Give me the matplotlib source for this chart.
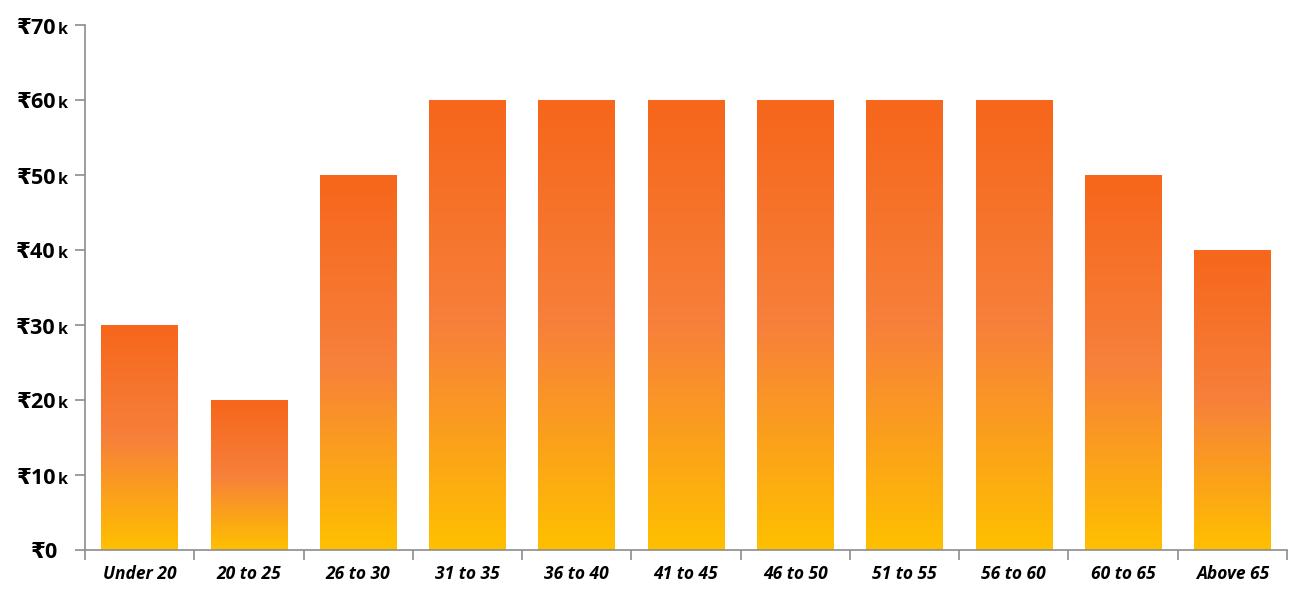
import matplotlib
matplotlib.use("Agg")
import matplotlib.pyplot as plt
import matplotlib.transforms as mtrans
import numpy as np
from matplotlib.colors import LinearSegmentedColormap

categories = ["Under 20", "20 to 25", "26 to 30", "31 to 35", "36 to 40", "41 to 45",
              "46 to 50", "51 to 55", "56 to 60", "60 to 65", "Above 65"]
values = [30, 20, 50, 60, 60, 60, 60, 60, 60, 50, 40]  # thousands of rupees
yticks = [0, 10, 20, 30, 40, 50, 60, 70]

W, H = 1296, 594
fig = plt.figure(figsize=(W / 100, H / 100), dpi=100)
ax = fig.add_axes([85 / W, (H - 550) / H, (1287 - 85) / W, (550 - 25) / H])

cmap = LinearSegmentedColormap.from_list(
    "grad", [(0.0, "#FFC000"), (0.25, "#FBA01C"), (0.5, "#F7803B"), (1.0, "#F6661B")])
grad = np.linspace(0, 1, 256).reshape(-1, 1)

x = np.arange(len(categories))
bw = 0.70
bars = ax.bar(x, values, width=bw, color="none", edgecolor="none", zorder=2)
for b in bars:
    x0, y0, w, h = b.get_x(), b.get_y(), b.get_width(), b.get_height()
    im = ax.imshow(grad, extent=[x0, x0 + w, y0, y0 + h], origin="lower",
                   cmap=cmap, aspect="auto", zorder=2, interpolation="bicubic")
    im.set_clip_path(b)

ax.set_xlim(-0.5, len(categories) - 0.5)
ax.set_ylim(0, 70)

for s in ["top", "right"]:
    ax.spines[s].set_visible(False)
for s in ["left", "bottom"]:
    ax.spines[s].set_color("#8C8C8C")
    ax.spines[s].set_linewidth(1.2)

# x ticks at category boundaries
ax.set_xticks(np.arange(-0.5, len(categories), 1.0))
ax.set_xticklabels([])
ax.tick_params(axis="x", length=7, color="#8C8C8C", width=1.2, direction="out")
ax.set_xticks(x, minor=True)
ax.set_xticklabels(categories, minor=True, fontsize=12.5, fontweight="bold",
                   fontstyle="italic", family=["Open Sans", "DejaVu Sans"])
ax.tick_params(axis="x", which="minor", length=0, pad=11)

ax.set_yticks(yticks)
ax.set_yticklabels([])
ax.tick_params(axis="y", length=7, color="#8C8C8C", width=1.2, direction="out")

trans = ax.get_yaxis_transform()
fam = ["Open Sans", "DejaVu Sans"]
dpt = fig.dpi_scale_trans
for v in yticks:
    if v == 0:
        ax.text(0, v, "₹0", transform=trans + mtrans.ScaledTranslation(-27 / 100, -8.5 / 100, dpt),
                ha="right", va="baseline", fontsize=15.5, fontweight="bold",
                family=fam, clip_on=False)
    else:
        ax.text(0, v, f"₹{v}", transform=trans + mtrans.ScaledTranslation(-29 / 100, -8.5 / 100, dpt),
                ha="right", va="baseline", fontsize=15.5, fontweight="bold",
                family=fam, clip_on=False)
        ax.text(0, v, "k", transform=trans + mtrans.ScaledTranslation(-27.5 / 100, -8.5 / 100, dpt),
                ha="left", va="baseline", fontsize=11.5, fontweight="bold",
                family=fam, clip_on=False)

fig.savefig("out.png", dpi=100, facecolor="white")
